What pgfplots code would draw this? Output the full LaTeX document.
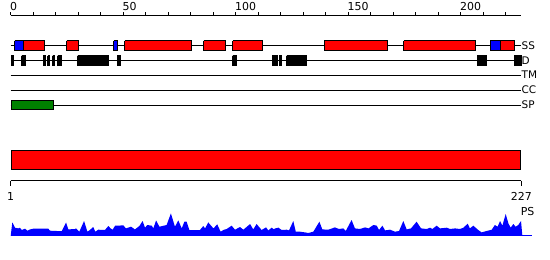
\documentclass[border=0pt]{standalone}
\usepackage{fontspec}
\setmainfont{DejaVu Sans}
\usepackage{pgfplots}
\pgfplotsset{compat=1.18}
\usepackage{pgfplotstable}

% PS profile: residue, height above baseline
\pgfplotstableread{
r h
0 0
0.73 13.3
1.9 8
3.4 7.3
4.1 8
4.9 5.7
6.4 7
7.4 5
8.6 6.3
10.1 7
16.7 7
17.5 5
20.4 4.7
22.7 4.7
24.6 13.3
25.6 6.3
28.6 6.7
29 7.3
30.5 4
32.6 14.7
34.1 4
35.2 5.7
36.7 8.7
37.6 4
38.9 6
41.9 5.7
43.4 9.7
44.4 7.3
45.3 6
46.4 10
50.1 10.3
51.2 7.3
53.5 9
55.2 6.3
57.2 9.7
58.6 14.7
59.7 8
60.7 10.7
62.7 10
63.4 7.3
64.6 15.3
66.1 9
69.3 10.7
71.2 22.3
73 9
74.5 15.3
76 7.3
77.2 14
78.2 14
79.4 5.7
84.1 5.7
85.6 9.7
86.4 7.3
87.8 13.3
90.1 7.3
91.8 11.3
93.3 4
94.8 6
96 6.7
98.2 10
99.7 6
101.9 8.7
103.4 6
106.4 11.7
107.8 6.3
109.3 11.7
111.5 5.7
113.5 8.3
114.5 5.3
116 8
117 6.3
117.5 7.3
119 8
120.4 5.7
122.7 6
123.7 5.3
125.6 14.7
126.7 4
128.6 4
130.8 3.3
132.3 2.7
134.5 4
137.2 14
138.5 6.3
141.2 6
144.1 8.3
145.9 6.7
147.8 7.3
148.9 4.7
151.5 15.7
153 7.3
155.2 6.7
157.5 8.3
159 7.3
161.2 10.7
162.7 10
163.7 5.7
165.2 10
166.4 5.3
168.6 6
170.8 4
172.6 4.7
174.5 14.7
176 6.3
177.9 7.3
180.4 14
182.4 7.3
184.9 6.7
186.4 8
187.4 6.7
189.3 10
190.8 7.3
193.8 8
195.3 6.7
197.5 7.3
199.7 6.7
201.2 8
203.1 12
204.1 7.3
205.6 10
207.8 5.7
209.3 3.3
211.5 4.7
213.8 6
215.2 10.7
216.4 9
217.5 14.7
218.5 10
220 21.7
221.2 12.3
222.2 8
223.4 11.7
224.4 9
225.6 10.7
226.8 14.7
227.4 0
}\psdata

\definecolor{ssred}{RGB}{255,0,0}
\definecolor{ssblue}{RGB}{0,0,255}
\definecolor{spgreen}{RGB}{0,128,0}

\tikzset{
  lbl/.style={font=\fontsize{10.5}{12}\selectfont, inner sep=0pt, anchor=base west},
  num/.style={font=\fontsize{11}{13}\selectfont, inner sep=0pt},
}

\begin{document}
\begin{tikzpicture}
\begin{axis}[
  scale only axis, width=550bp, height=260bp,
  xmin=-4.7556, xmax=239.689, ymin=0, ymax=260, y dir=reverse,
  hide axis, clip=false, unbounded coords=jump,
  every axis plot/.append style={line width=1bp, mark=none},
]
% bounding frame (invisible)
\addplot[draw=none] coordinates {(-4.7556,0) (239.689,260)};

% ---- top ruler ----
\addplot[black] coordinates {(0,15) (227,15)};
\addplot[black] coordinates {
(0,15)(0,11.5) (0,nan) (10,15)(10,11.5) (0,nan) (20,15)(20,11.5) (0,nan)
(30,15)(30,11.5) (0,nan) (40,15)(40,11.5) (0,nan) (50,15)(50,11.5) (0,nan)
(60,15)(60,11.5) (0,nan) (70,15)(70,11.5) (0,nan) (80,15)(80,11.5) (0,nan)
(90,15)(90,11.5) (0,nan) (100,15)(100,11.5) (0,nan) (110,15)(110,11.5) (0,nan)
(120,15)(120,11.5) (0,nan) (130,15)(130,11.5) (0,nan) (140,15)(140,11.5) (0,nan)
(150,15)(150,11.5) (0,nan) (160,15)(160,11.5) (0,nan) (170,15)(170,11.5) (0,nan)
(180,15)(180,11.5) (0,nan) (190,15)(190,11.5) (0,nan) (200,15)(200,11.5) (0,nan)
(210,15)(210,11.5) (0,nan) (220,15)(220,11.5)};
\node[num, anchor=base west, xshift=-0.7bp] at (axis cs:0,10) {0};
\node[num, anchor=base west, xshift=-0.7bp] at (axis cs:50,10) {50};
\node[num, anchor=base west, xshift=-0.7bp] at (axis cs:100,10) {100};
\node[num, anchor=base west, xshift=-0.7bp] at (axis cs:150,10) {150};
\node[num, anchor=base west, xshift=-0.7bp] at (axis cs:200,10) {200};

% ---- SS track ----
\addplot[black] coordinates {(0,45.4) (227,45.4)};
\addplot[fill=ssred, draw=black] coordinates {
(5.6,40.8)(15.2,40.8)(15.2,50.2)(5.6,50.2)(5.6,40.8) (0,nan)
(24.9,40.8)(30.2,40.8)(30.2,50.2)(24.9,50.2)(24.9,40.8) (0,nan)
(50.7,40.8)(80.2,40.8)(80.2,50.2)(50.7,50.2)(50.7,40.8) (0,nan)
(85.7,40.8)(95.4,40.8)(95.4,50.2)(85.7,50.2)(85.7,40.8) (0,nan)
(98.7,40.8)(112.1,40.8)(112.1,50.2)(98.7,50.2)(98.7,40.8) (0,nan)
(139.4,40.8)(167.6,40.8)(167.6,50.2)(139.4,50.2)(139.4,40.8) (0,nan)
(174.7,40.8)(206.5,40.8)(206.5,50.2)(174.7,50.2)(174.7,40.8) (0,nan)
(217.5,40.8)(224.1,40.8)(224.1,50.2)(217.5,50.2)(217.5,40.8)};
\addplot[fill=ssblue, draw=black] coordinates {
(1.7,40.8)(5.6,40.8)(5.6,50.2)(1.7,50.2)(1.7,40.8) (0,nan)
(45.8,40.8)(47.4,40.8)(47.4,50.2)(45.8,50.2)(45.8,40.8) (0,nan)
(213.2,40.8)(217.5,40.8)(217.5,50.2)(213.2,50.2)(213.2,40.8)};
\node[lbl] at (axis cs:227,49.3) {SS};

% ---- D track ----
\addplot[black] coordinates {(0,60.3) (227,60.3)};
\addplot[fill=black, draw=black] coordinates {
(0.2,55.5)(1.4,55.5)(1.4,65.5)(0.2,65.5)(0.2,55.5) (0,nan)
(4.8,55.5)(6.5,55.5)(6.5,65.5)(4.8,65.5)(4.8,55.5) (0,nan)
(14.4,55.5)(15.4,55.5)(15.4,65.5)(14.4,65.5)(14.4,55.5) (0,nan)
(16.5,55.5)(17.4,55.5)(17.4,65.5)(16.5,65.5)(16.5,55.5) (0,nan)
(18.6,55.5)(19.5,55.5)(19.5,65.5)(18.6,65.5)(18.6,55.5) (0,nan)
(20.8,55.5)(22.5,55.5)(22.5,65.5)(20.8,65.5)(20.8,55.5) (0,nan)
(29.7,55.5)(43.4,55.5)(43.4,65.5)(29.7,65.5)(29.7,55.5) (0,nan)
(47.4,55.5)(48.8,55.5)(48.8,65.5)(47.4,65.5)(47.4,55.5) (0,nan)
(98.6,55.5)(100.2,55.5)(100.2,65.5)(98.6,65.5)(98.6,55.5) (0,nan)
(116.3,55.5)(118.5,55.5)(118.5,65.5)(116.3,65.5)(116.3,55.5) (0,nan)
(119.4,55.5)(120.2,55.5)(120.2,65.5)(119.4,65.5)(119.4,55.5) (0,nan)
(122.6,55.5)(131.4,55.5)(131.4,65.5)(122.6,65.5)(122.6,55.5) (0,nan)
(207.4,55.5)(211.4,55.5)(211.4,65.5)(207.4,65.5)(207.4,55.5) (0,nan)
(223.9,55.5)(226.8,55.5)(226.8,65.5)(223.9,65.5)(223.9,55.5)};
\node[lbl] at (axis cs:227,64.2) {D};

% ---- TM, CC, SP tracks ----
\addplot[black] coordinates {(0,75) (227,75)};
\node[lbl] at (axis cs:227,78.9) {TM};
\addplot[black] coordinates {(0,90) (227,90)};
\node[lbl] at (axis cs:227,93.9) {CC};
\addplot[black] coordinates {(0,105) (227,105)};
\addplot[fill=spgreen, draw=black] coordinates {(0.2,100.5)(19.2,100.5)(19.2,109.5)(0.2,109.5)(0.2,100.5)};
\node[lbl] at (axis cs:227,108.9) {SP};

% ---- domain bar ----
\addplot[fill=ssred, draw=black] coordinates {(0.2,150.5)(226.5,150.5)(226.5,169.5)(0.2,169.5)(0.2,150.5)};

% ---- bottom ruler ----
\addplot[black] coordinates {(0,180.7) (227,180.7)};
\addplot[black] coordinates {(0,180.7)(0,185.5) (0,nan) (227,180.7)(227,185.5)};
\node[num, anchor=base] at (axis cs:0,200) {1};
\node[num, anchor=base] at (axis cs:227,200) {227};

% ---- PS profile ----
\node[num, anchor=base west] at (axis cs:226.6,215) {PS};
\addplot[fill=ssblue, draw=none] table[x=r, y expr=235.7-\thisrow{h}] {\psdata} -- cycle;
\addplot[ssblue] coordinates {(0,235.7) (231.6,235.7)};
\end{axis}
\end{tikzpicture}
\end{document}
